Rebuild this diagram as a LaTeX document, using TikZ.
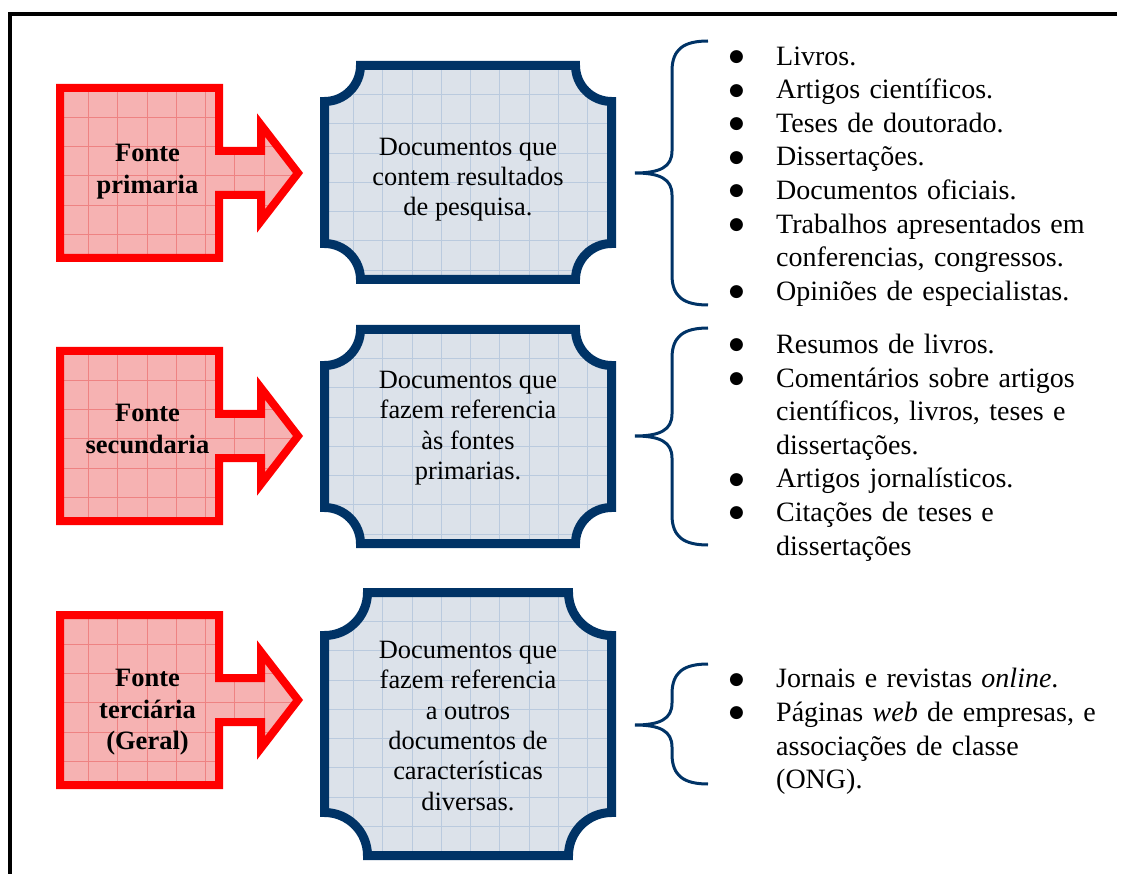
\documentclass[tikz,border=0pt]{standalone}
\usepackage{fontspec}
\setmainfont{Liberation Serif}
\newfontfamily\bulletfont{DejaVu Sans}

\definecolor{srcred}{RGB}{255,0,0}
\definecolor{srcfill}{RGB}{246,178,178}
\definecolor{srcgrid}{RGB}{238,130,130}
\definecolor{navy}{RGB}{0,51,102}
\definecolor{plaquefill}{RGB}{220,226,234}
\definecolor{plaquegrid}{RGB}{186,202,222}

% uniform line heights so the first baseline sits at a known offset
\newcommand\tstrut{\rule{0pt}{20pt}}
\newcommand\lstrut{\rule{0pt}{22pt}}
\newcommand\bul{\raisebox{3.5pt}{\fontsize{17}{17}\bulletfont ●}}
\newcommand\itm{\par\noindent\hangindent=52pt\hangafter=1\makebox[52pt][l]{\hspace{5pt}\bul}\lstrut}
\newcommand\contline{\newline\lstrut}

% block arrow around its own vertical centre
\def\arrowpath{(60,-85) -- (219,-85) -- (219,-22) -- (261,-22) -- (261,-48) -- (298,0) -- (261,48) -- (261,22) -- (219,22) -- (219,85) -- (60,85) -- cycle}

% plaque: left, top, right, bottom, concave corner radius
\def\plaquepath#1#2#3#4#5{(#1+#5,#2) -- (#3-#5,#2) .. controls (#3-#5,#2+0.5523*#5) and (#3-0.5523*#5,#2+#5) .. (#3,#2+#5) -- (#3,#4-#5) .. controls (#3-0.5523*#5,#4-#5) and (#3-#5,#4-0.5523*#5) .. (#3-#5,#4) -- (#1+#5,#4) .. controls (#1+#5,#4-0.5523*#5) and (#1+0.5523*#5,#4-#5) .. (#1,#4-#5) -- (#1,#2+#5) .. controls (#1+0.5523*#5,#2+#5) and (#1+#5,#2+0.5523*#5) .. (#1+#5,#2) -- cycle}

\tikzset{
  framestyle/.style={draw=black, line width=4pt, line join=miter},
  srcline/.style={draw=srcred, line width=8pt, line join=miter, miter limit=10},
  srcgridline/.style={draw=srcgrid, line width=0.7pt},
  plaqueline/.style={draw=navy, line width=9pt, line join=miter},
  plaquegridline/.style={draw=plaquegrid, line width=0.7pt},
  bracestyle/.style={draw=navy, line width=3pt, line cap=butt},
  srclabel/.style={inner sep=0pt, anchor=north, align=center,
    font=\fontsize{26.5}{31.5}\selectfont\bfseries},
  plaquetext/.style={inner sep=0pt, anchor=north, align=center,
    font=\fontsize{26.4}{30.4}\selectfont},
  listtext/.style={inner sep=0pt, anchor=north west, text width=400pt, align=left,
    font=\fontsize{28}{33.6}\selectfont\setlength{\parskip}{0pt}},
}

\newcommand\srcarrow[1]{%
  \begin{scope}[shift={(0,#1)}]
    \fill[srcfill] \arrowpath;
    \begin{scope}
      \clip \arrowpath;
      \foreach \k in {-1,...,7} \draw[srcgridline] (88.3+29.3*\k,-95) -- (88.3+29.3*\k,95);
      \foreach \k in {0,...,6} \draw[srcgridline] (50,-85.3+29.3*\k) -- (310,-85.3+29.3*\k);
    \end{scope}
    \draw[srcline] \arrowpath;
  \end{scope}}

\newcommand\plaque[3]{%
  \fill[plaquefill] \plaquepath{324.5}{#1}{611.5}{#2}{#3};
  \begin{scope}
    \clip \plaquepath{324.5}{#1}{611.5}{#2}{#3};
    \foreach \k in {0,...,9} \draw[plaquegridline] (353.3+29.3*\k,#1-10) -- (353.3+29.3*\k,#2+10);
    \foreach \k in {0,...,10} \draw[plaquegridline] (315,#1+28.8+29.3*\k) -- (620,#1+28.8+29.3*\k);
  \end{scope}
  \draw[plaqueline] \plaquepath{324.5}{#1}{611.5}{#2}{#3};}

\newcommand\srcbrace[3]{%
  \draw[bracestyle] (708,#1) .. controls (684,#1) and (672,#1+8) .. (672,#1+30)
    -- (672,#2-22) .. controls (672,#2-6) and (660,#2) .. (635,#2)
    .. controls (660,#2) and (672,#2+6) .. (672,#2+22)
    -- (672,#3-30) .. controls (672,#3-8) and (684,#3) .. (708,#3);}

\begin{document}
\begin{tikzpicture}[x=1pt,y=-1pt]
  \useasboundingbox (0,0) rectangle (1130,874);

  % page frame (top and left edges)
  \draw[framestyle] (1117,14) -- (9.7,14) -- (9.7,880);

  % source-type arrows
  \srcarrow{173}
  \srcarrow{436}
  \srcarrow{700}

  % description plaques
  \plaque{65.5}{279.5}{36}
  \plaque{329.5}{543.5}{36}
  \plaque{592.5}{855.5}{43}

  % braces gathering the examples
  \srcbrace{41}{173}{305}
  \srcbrace{328}{436}{545}
  \srcbrace{664}{725}{784}

  % arrow labels
  \node[srclabel] (lbl1) at (147.5,141.7) {\tstrut Fonte\\\tstrut primaria};
  \node[srclabel] (lbl2) at (147.5,401.7) {\tstrut Fonte\\\tstrut secundaria};
  \node[srclabel] (lbl3) at (147.5,666.7) {\tstrut Fonte\\\tstrut terciária\\\tstrut (Geral)};

  % plaque texts
  \node[plaquetext] (txt1) at (468,135) {\tstrut Documentos que\\\tstrut contem resultados\\\tstrut de pesquisa.};
  \node[plaquetext] (txt2) at (468,368.3) {\tstrut Documentos que\\\tstrut fazem referencia\\\tstrut às fontes\\\tstrut primarias.};
  \node[plaquetext] (txt3) at (468,638) {\tstrut Documentos que\\\tstrut fazem referencia\\\tstrut a outros\\\tstrut documentos de\\\tstrut características\\\tstrut diversas.};

  % example lists
  \node[listtext] (lst1) at (724,31.3) {%
    \itm Livros.
    \itm Artigos científicos.
    \itm Teses de doutorado.
    \itm Dissertações.
    \itm Documentos oficiais.
    \itm Trabalhos apresentados em\contline conferencias, congressos.
    \itm Opiniões de especialistas.\par};
  \node[listtext] (lst2) at (724,319.7) {%
    \itm Resumos de livros.
    \itm Comentários sobre artigos\contline científicos, livros, teses e\contline dissertações.
    \itm Artigos jornalísticos.
    \itm Citações de teses e\contline dissertações\par};
  \node[listtext] (lst3) at (724,654) {%
    \itm Jornais e revistas \textit{online}.
    \itm Páginas \textit{web} de empresas, e\contline associações de classe\contline (ONG).\par};
\end{tikzpicture}
\end{document}
